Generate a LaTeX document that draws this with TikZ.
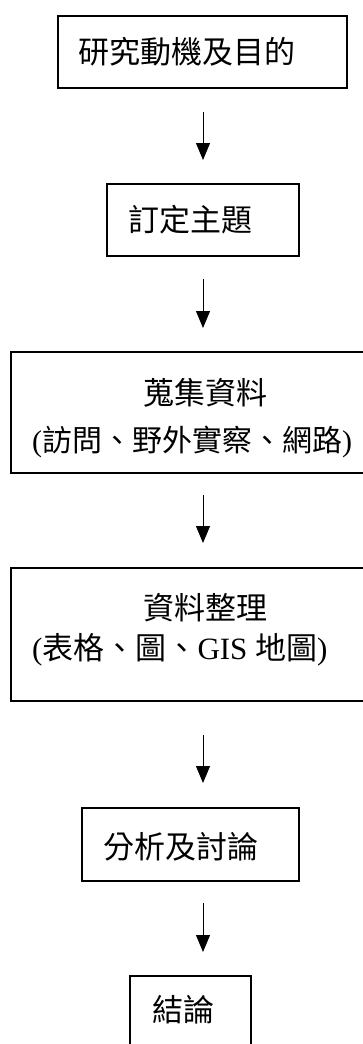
\documentclass[tikz,border=0pt]{standalone}
\usepackage{fontspec}
\setmainfont{Noto Sans CJK TC}
\newfontfamily\tnr{Liberation Serif}
\usepackage{tikz}
\usetikzlibrary{arrows.meta, calc}
\tikzset{box/.style={draw,line width=1.3pt,anchor=north west,inner sep=0pt,outer sep=0pt}}
\tikzset{lbl/.style={anchor=west,inner sep=0pt,font=\fontsize{31}{31}\selectfont}}
\tikzset{flow/.style={-{Triangle[width=14pt,length=17pt]},line width=1pt,shorten >=24pt}}

\begin{document}
\begin{tikzpicture}[x=1pt,y=-1pt]
    \useasboundingbox (0,0) rectangle (363,1044);
    \clip (0,0) rectangle (363,1044);

    % boxes
    \node[box, minimum width=289pt, minimum height=72pt] (B1) at (58,16) {};
    \node[box, minimum width=192pt, minimum height=72pt] (B2) at (107,184) {};
    \node[box, minimum width=370pt, minimum height=121pt] (B3) at (11,352) {};
    \node[box, minimum width=370pt, minimum height=133pt] (B4) at (11,568) {};
    \node[box, minimum width=217pt, minimum height=73pt] (B5) at (82,808) {};
    \node[box, minimum width=121pt, minimum height=90pt] (B6) at (130,976) {};

    % texts
    \node[lbl] (T1) at (78,52) {研究動機及目的};
    \node[lbl] (T2) at (128,220) {訂定主題};
    \node[lbl] (T3a) at (143,393) {蒐集資料};
    \node[lbl, font=\fontsize{30}{30}\selectfont] (T3b) at (32,442) {{\tnr(}訪問、野外實察、網路{\tnr)}};
    \node[lbl] (T4a) at (143,608) {資料整理};
    \node[lbl] (T4b) at (32,650) {{\tnr(}表格、圖、{\tnr GIS }地圖{\tnr)}};
    \node[lbl] (T5) at (103,847) {分析及討論};
    \node[lbl] (T6) at (152,1010) {結論};

    \coordinate (axis) at (203,0);
    \draw[flow, shorten <=24pt] (B1.south -| axis) -- (B2.north -| axis);
    \draw[flow, shorten <=23pt] (B2.south -| axis) -- (B3.north -| axis);
    \draw[flow, shorten <=22pt, shorten >=25pt] (B3.south -| axis) -- (B4.north -| axis);
    \draw[flow, shorten <=34pt, shorten >=25pt] (B4.south -| axis) -- (B5.north -| axis);
    \draw[flow, shorten <=22pt] (B5.south -| axis) -- (B6.north -| axis);
\end{tikzpicture}
\end{document}
